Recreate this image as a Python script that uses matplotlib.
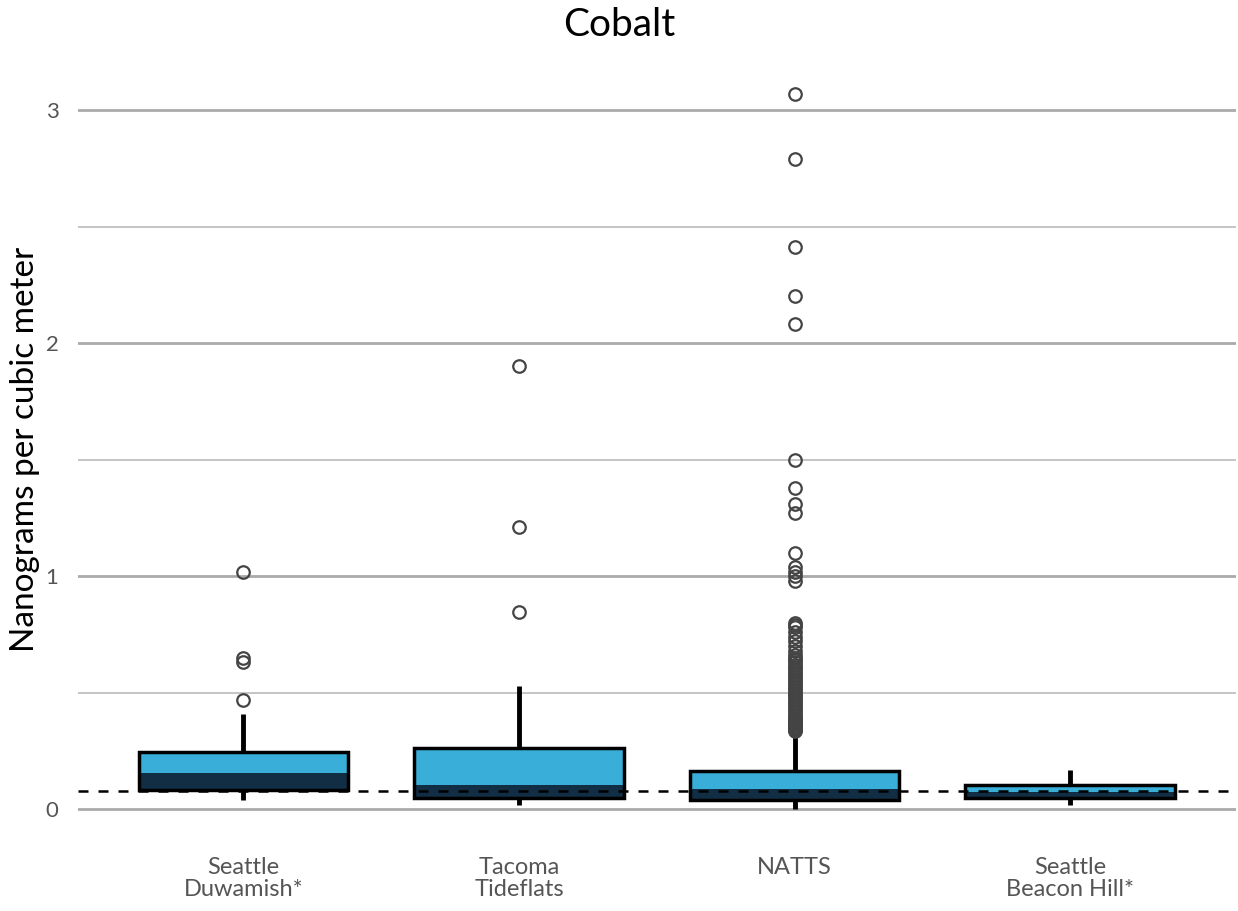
import matplotlib
matplotlib.use("Agg")
import matplotlib.pyplot as plt

plt.rcParams['font.family'] = ['Lato', 'DejaVu Sans']

sites = ["Seattle\nDuwamish*", "Tacoma\nTideflats", "NATTS", "Seattle\nBeacon Hill*"]
q1 = [0.082, 0.050, 0.039, 0.047]
med = [0.155, 0.103, 0.085, 0.075]
q3 = [0.245, 0.262, 0.163, 0.103]
whislo = [0.040, 0.020, 0.000, 0.017]
whishi = [0.410, 0.530, 0.330, 0.170]
outliers = [
    [0.47, 0.63, 0.65, 1.02],
    [0.845, 1.21, 1.90],
    [0.335, 0.34, 0.345, 0.35, 0.355, 0.36, 0.365, 0.37, 0.375, 0.38, 0.385,
     0.39, 0.40, 0.41, 0.42, 0.43, 0.44, 0.45, 0.46, 0.47, 0.48, 0.49, 0.50,
     0.51, 0.52, 0.53, 0.54, 0.55, 0.56, 0.57, 0.58, 0.59, 0.60, 0.61, 0.62,
     0.63, 0.64, 0.65, 0.66, 0.68, 0.70, 0.72, 0.74, 0.76, 0.78, 0.79, 0.80,
     0.98, 1.00, 1.02, 1.04, 1.10, 1.27, 1.31, 1.38, 1.50, 2.08, 2.20, 2.41,
     2.79, 3.07],
    [],
]
reference_level = 0.077

light = "#38AED8"
dark = "#112E45"

fig = plt.figure(figsize=(12.38, 9.11), dpi=100)
ax = fig.add_axes([0.063, 0.104, 0.935, 0.806])

positions = [1, 2, 3, 4]
width = 0.76

# grid lines
for y in [0, 1, 2, 3]:
    ax.axhline(y, color="#AAAAAA", lw=2.0, zorder=0)
for y in [0.5, 1.5, 2.5]:
    ax.axhline(y, color="#BBBBBB", lw=1.2, zorder=0)

# fills
ax.bar(positions, [m - a for m, a in zip(med, q1)], bottom=q1, width=width,
       color=dark, zorder=2, linewidth=0)
ax.bar(positions, [b - m for b, m in zip(q3, med)], bottom=med, width=width,
       color=light, zorder=2, linewidth=0)

stats = []
for i in range(4):
    stats.append(dict(med=med[i], q1=q1[i], q3=q3[i], whislo=whislo[i],
                      whishi=whishi[i], fliers=outliers[i], label=sites[i]))

ax.bxp(stats, positions=positions, widths=width, showcaps=False,
       patch_artist=True,
       boxprops=dict(facecolor="none", edgecolor="black", linewidth=2.5, zorder=3),
       medianprops=dict(color="none", linewidth=0),
       whiskerprops=dict(color="black", linewidth=3.5, solid_capstyle="butt"),
       flierprops=dict(marker="o", markerfacecolor="none", markeredgecolor="#444444",
                       markersize=9, markeredgewidth=1.6),
       zorder=3)

ax.axhline(reference_level, color="black", lw=1.8, ls=(0, (4, 4)), zorder=4)

ax.set_xlim(0.4, 4.6)
ax.set_ylim(-0.03, 3.12)
ax.set_yticks([0, 1, 2, 3])
ax.set_yticklabels(["0", "1", "2", "3"])
ax.set_xticks(positions)
ax.set_xticklabels(sites, linespacing=1.1)
ax.tick_params(axis="y", length=0, pad=14, labelsize=16, labelcolor="#555555")
ax.tick_params(axis="x", length=0, pad=29, labelsize=17, labelcolor="#555555")
for s in ax.spines.values():
    s.set_visible(False)

ax.set_ylabel("Nanograms per cubic meter", fontsize=24, color="black",
              va="center")
ax.yaxis.set_label_coords(-0.046, 0.5)
fig.suptitle("Cobalt", fontsize=28, y=0.992)

fig.savefig("out.png", dpi=100)
